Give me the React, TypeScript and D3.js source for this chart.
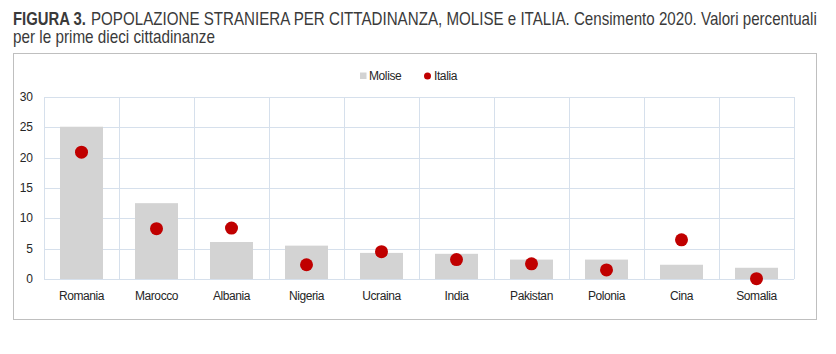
import React, { useEffect, useRef } from 'react';
import * as d3 from 'd3';

const countries = ['Romania', 'Marocco', 'Albania', 'Nigeria', 'Ucraina', 'India', 'Pakistan', 'Polonia', 'Cina', 'Somalia'];
const molise = [25.1, 12.5, 6.1, 5.5, 4.3, 4.15, 3.2, 3.2, 2.35, 1.85];
const italia = [20.9, 8.3, 8.4, 2.35, 4.5, 3.2, 2.5, 1.5, 6.45, 0.05];
const yTicks = [0, 5, 10, 15, 20, 25, 30];

const WIDTH = 836;
const HEIGHT = 354;
const PLOT = { left: 44, right: 794, top: 97, bottom: 279 };

const BAR = '#d3d3d3';
const DOT = '#c00000';
const GRID = '#d6e0ec';
const INK = '#262626';
const TITLE_INK = '#3a3a3a';
const FONT = 'Liberation Sans, Arial, sans-serif';
const NARROW = '"Liberation Sans Narrow", "Arial Narrow", Liberation Sans, sans-serif';

const App: React.FC = () => {
  const svgRef = useRef<SVGSVGElement>(null);

  useEffect(() => {
    if (!svgRef.current) return;
    const svg = d3.select(svgRef.current);
    svg.selectAll('*').remove();

    svg.append('rect').attr('width', WIDTH).attr('height', HEIGHT).attr('fill', '#fff');

    // title: bold lead-in, then the rest; each piece scaled horizontally to the reference width
    const title = (txt: string, x0: number, y0: number, len: number, bold = false) => {
      const t = svg
        .append('text')
        .attr('x', 0)
        .attr('y', 0)
        .style('font-family', NARROW)
        .style('font-size', '18px')
        .style('font-weight', bold ? 'bold' : 'normal')
        .style('fill', TITLE_INK)
        .text(txt);
      const natural = (t.node() as SVGTextElement).getComputedTextLength() || len;
      t.attr('transform', `translate(${x0},${y0}) scale(${len / natural},1)`);
    };
    title('FIGURA 3.', 13, 25, 73, true);
    title('POPOLAZIONE STRANIERA PER CITTADINANZA, MOLISE e ITALIA. Censimento 2020. Valori percentuali', 91, 25, 726);
    title('per le prime dieci cittadinanze', 13, 43, 202);

    // chart frame
    svg
      .append('rect')
      .attr('x', 13.5)
      .attr('y', 53.5)
      .attr('width', 803)
      .attr('height', 266)
      .attr('fill', 'none')
      .attr('stroke', '#bfbfbf');

    const x = d3.scaleBand().domain(countries).range([PLOT.left, PLOT.right]);
    const y = d3.scaleLinear().domain([0, 30]).range([PLOT.bottom, PLOT.top]);

    // grid
    const grid = svg.append('g').attr('stroke', GRID).attr('stroke-width', 1);
    yTicks.forEach(t => {
      grid
        .append('line')
        .attr('x1', PLOT.left)
        .attr('x2', PLOT.right)
        .attr('y1', Math.round(y(t)) + 0.5)
        .attr('y2', Math.round(y(t)) + 0.5);
    });
    countries.forEach((c, i) => {
      const xs = [x(c) || 0];
      if (i === countries.length - 1) xs.push((x(c) || 0) + x.bandwidth());
      xs.forEach(v =>
        grid
          .append('line')
          .attr('x1', Math.round(v) + 0.5)
          .attr('x2', Math.round(v) + 0.5)
          .attr('y1', PLOT.top)
          .attr('y2', PLOT.bottom),
      );
    });

    // y labels
    svg
      .append('g')
      .selectAll('text')
      .data(yTicks)
      .enter()
      .append('text')
      .attr('x', 33)
      .attr('y', d => y(d) + 4)
      .attr('text-anchor', 'end')
      .style('font-family', FONT)
      .style('font-size', '12px')
      .style('fill', INK)
      .text(d => d);

    // bars
    const barW = 43;
    svg
      .append('g')
      .selectAll('rect')
      .data(molise)
      .enter()
      .append('rect')
      .attr('x', (_d, i) => (x(countries[i]) || 0) + (x.bandwidth() - barW) / 2)
      .attr('width', barW)
      .attr('y', d => y(d))
      .attr('height', d => y(0) - y(d))
      .attr('fill', BAR);

    // dots
    svg
      .append('g')
      .selectAll('circle')
      .data(italia)
      .enter()
      .append('circle')
      .attr('cx', (_d, i) => (x(countries[i]) || 0) + x.bandwidth() / 2)
      .attr('cy', d => y(d))
      .attr('r', 6.5)
      .attr('fill', DOT);

    // x labels
    svg
      .append('g')
      .selectAll('text')
      .data(countries)
      .enter()
      .append('text')
      .attr('x', d => (x(d) || 0) + x.bandwidth() / 2)
      .attr('y', 300)
      .attr('text-anchor', 'middle')
      .style('font-family', FONT)
      .style('font-size', '12px')
      .style('letter-spacing', '-0.4px')
      .style('fill', INK)
      .text(d => d);

    // legend
    const lg = svg
      .append('g')
      .style('font-family', FONT)
      .style('font-size', '12px')
      .style('letter-spacing', '-0.4px')
      .style('fill', INK);
    lg.append('rect').attr('x', 360).attr('y', 72.5).attr('width', 6.5).attr('height', 6.5).attr('fill', BAR);
    lg.append('text').attr('x', 369).attr('y', 80).text('Molise');
    lg.append('circle').attr('cx', 427.5).attr('cy', 76).attr('r', 3.5).attr('fill', DOT);
    lg.append('text').attr('x', 434).attr('y', 80).text('Italia');
  }, []);

  return (
    <svg
      ref={svgRef}
      width={WIDTH}
      height={HEIGHT}
      style={{ position: 'absolute', left: 0, top: 0, display: 'block' }}
    />
  );
};

export default App;
